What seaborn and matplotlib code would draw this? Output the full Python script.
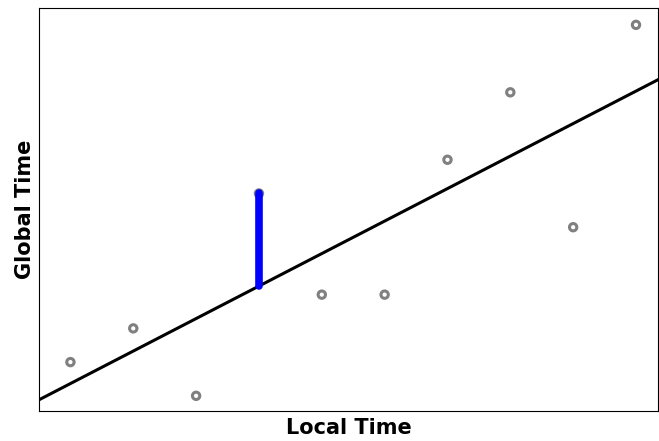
import matplotlib
matplotlib.use("Agg")
import matplotlib.pyplot as plt
import seaborn as sns
import numpy as np
import pandas as pd

local_time = [1, 2, 3, 4, 5, 6, 7, 8, 9, 10]
global_time = [2, 3, 1, 7, 4, 4, 8, 10, 6, 12]
highlight_index = 3

sns.set_style("white")
fig = plt.figure(figsize=(6.59, 4.41), dpi=100)
ax = fig.add_axes([39/659, 30/441, 619/659, 403/441])

df = pd.DataFrame({"x": local_time, "y": global_time})
sns.scatterplot(data=df, x="x", y="y", ax=ax, s=28, facecolor="none",
                edgecolor="gray", linewidth=2.2, zorder=2)

slope, intercept = np.polyfit(local_time, global_time, 1)
xl = np.array([0.0, 11.0])
sns.lineplot(x=xl, y=intercept + slope * xl, ax=ax, color="black", linewidth=2.2, zorder=3)

hx = local_time[highlight_index]
hy = global_time[highlight_index]
ax.plot([hx, hx], [intercept + slope * hx, hy], color="blue", linewidth=5.5,
        solid_capstyle="round", zorder=4)

ax.set_xlim(0.5, 10.35)
ax.set_ylim(0.55, 12.5)
ax.set_xticks([])
ax.set_yticks([])
ax.set_xlabel("Local Time", fontsize=15, fontweight="bold", labelpad=5, color="black")
ax.set_ylabel("Global Time", fontsize=15, fontweight="bold", labelpad=3, color="black")
for s in ax.spines.values():
    s.set_color("black")
    s.set_linewidth(0.8)

fig.savefig("out.png", dpi=100)
